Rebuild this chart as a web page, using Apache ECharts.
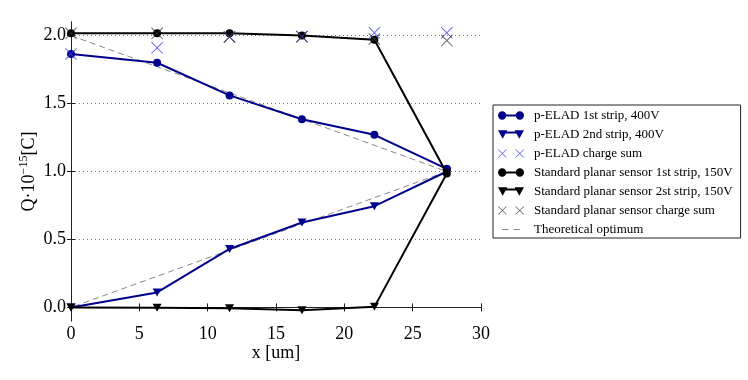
<!DOCTYPE html>
<html>
<head>
<meta charset="utf-8">
<script src="https://cdn.jsdelivr.net/npm/echarts@6/dist/echarts.min.js"></script>
<style>html,body{margin:0;padding:0;background:#fff}#c{width:748px;height:380px}</style>
</head>
<body>
<div id="c"></div>
<script>
// ---- data ----
var xPos      = [0, 6.3, 11.6, 16.9, 22.2, 27.5];
var elad1     = [1.865, 1.80, 1.56, 1.385, 1.27, 1.02];
var elad2     = [0.0, 0.11, 0.43, 0.625, 0.745, 1.0];
var eladSum   = [1.865, 1.91, 1.99, 1.995, 2.02, 2.02];
var std1      = [2.017, 2.017, 2.017, 2.0, 1.97, 0.985];
var std2      = [0.0, -0.003, -0.006, -0.02, 0.004, 0.985];
var stdSum    = [2.017, 2.017, 1.99, 1.99, 1.975, 1.963];
var theoryX   = [0, 27.5, 0];
var theoryY   = [2.0, 1.0, 0.0];
var yTicks    = [0, 0.5, 1.0, 1.5, 2.0];
var names = ['p-ELAD 1st strip, 400V','p-ELAD 2nd strip, 400V','p-ELAD charge sum',
  'Standard planar sensor 1st strip, 150V','Standard planar sensor 2st strip, 150V',
  'Standard planar sensor charge sum','Theoretical optimum'];

function pairs(xs, ys){ return xs.map(function(x,i){ return [x, ys[i]]; }); }

function xShape(cx, cy, s, d){
  var a = d/Math.SQRT2;
  return 'M'+(cx-s+a)+','+(cy-s-a)+' L'+(cx+s+a)+','+(cy+s-a)+' L'+(cx+s-a)+','+(cy+s+a)+' L'+(cx-s-a)+','+(cy-s+a)+' Z '+
         'M'+(cx+s+a)+','+(cy-s+a)+' L'+(cx-s+a)+','+(cy+s+a)+' L'+(cx-s-a)+','+(cy+s-a)+' L'+(cx+s-a)+','+(cy-s-a)+' Z';
}
var xSym = 'path://' + xShape(10,10,10,0.8);
var triSym = 'path://M0,0 L10,0 L5,9 Z';

var iconCirc = 'path://M0,4 A4,4 0 1,1 8,4 A4,4 0 1,1 0,4 Z M7,3 L18,3 L18,5 L7,5 Z M17,4 A4,4 0 1,1 25,4 A4,4 0 1,1 17,4 Z';
var iconTri = 'path://M0,0 L9,0 L4.5,8 Z M4,1 L21,1 L21,3 L4,3 Z M16,0 L25,0 L20.5,8 Z';
var iconX = 'path://' + xShape(4,4,4,0.35) + ' ' + xShape(21,4,4,0.35);
var iconDash = 'path://M4,3.5 L10,3.5 L10,4.5 L4,4.5 Z M15,3.5 L21,3.5 L21,4.5 L15,4.5 Z M0,0 L0.01,0 L0.01,0.01 Z M25,8 L24.99,8 L24.99,7.99 Z';

var serif = 'Liberation Serif';
var blue = '#00008B';
var chart = echarts.init(document.getElementById('c'));
chart.setOption({
  animation: false,
  backgroundColor: '#fff',
  grid: {left: 71, right: 267, top: 22, bottom: 59},
  legend: {
    orient: 'vertical', left: 493, top: 105,
    itemWidth: 26, itemHeight: 10, itemGap: 6,
    padding: [4, 8, 2, 5],
    borderColor: '#222', borderWidth: 1, backgroundColor: '#fff', borderRadius: 0,
    textStyle: {fontFamily: serif, fontSize: 13, color: '#000', padding: [0,0,0,5]},
    data: [
      {name: names[0], icon: iconCirc},
      {name: names[1], icon: iconTri},
      {name: names[2], icon: iconX},
      {name: names[3], icon: iconCirc},
      {name: names[4], icon: iconTri},
      {name: names[5], icon: iconX},
      {name: names[6], icon: iconDash}
    ]
  },
  xAxis: [{
    type: 'value', min: 0, max: 30, interval: 5,
    name: 'x [um]', nameLocation: 'middle', nameGap: 23, nameMoveOverlap: false,
    nameTextStyle: {fontFamily: serif, fontSize: 18, color: '#000'},
    axisLine: {lineStyle: {color: '#222', width: 1}},
    axisTick: {inside: true, length: 4, lineStyle: {color: '#222'}},
    axisLabel: {fontFamily: serif, fontSize: 18, color: '#000', margin: 4},
    splitLine: {show: false}
  }, {
    type: 'value', min: 0, max: 30, interval: 5, position: 'top',
    axisLine: {show: true, lineStyle: {color: '#222', width: 1}},
    axisTick: {show: true, inside: true, length: 4, lineStyle: {color: '#222'}},
    axisLabel: {show: false}, splitLine: {show: false}
  }],
  yAxis: [{
    type: 'value', min: -0.1, max: 2.1,
    name: '{n|Q·10}{s|−15}{n|[C]}', nameLocation: 'middle', nameGap: 30, nameRotate: 90,
    nameMoveOverlap: false,
    nameTextStyle: {fontFamily: serif, color: '#000', rich: {
      n: {fontFamily: serif, fontSize: 18, color: '#000'},
      s: {fontFamily: serif, fontSize: 12, color: '#000', padding: [0, 0, 11, 0]}
    }},
    axisLine: {show: true, lineStyle: {color: '#222', width: 1}},
    axisTick: {show: true, inside: true, length: 4, customValues: yTicks, lineStyle: {color: '#222'}},
    axisLabel: {fontFamily: serif, fontSize: 18, color: '#000', margin: 5, customValues: yTicks,
      formatter: function(v){ return v.toFixed(1); }},
    splitLine: {show: true, lineStyle: {color: '#777', type: [1, 3], width: 1}}
  }, {
    type: 'value', min: -0.1, max: 2.1, position: 'right',
    axisLine: {show: true, lineStyle: {color: '#222', width: 1}},
    axisTick: {show: true, inside: true, length: 4, customValues: yTicks, lineStyle: {color: '#222'}},
    axisLabel: {show: false}, splitLine: {show: false}
  }],
  series: [
    {name: names[6], type: 'line', data: pairs(theoryX, theoryY), symbol: 'none', z: 1,
      itemStyle: {color: '#888'}, lineStyle: {color: '#888', width: 1, type: [6, 4]}},
    {name: names[0], type: 'line', data: pairs(xPos, elad1), symbol: 'circle', symbolSize: 8, z: 3,
      itemStyle: {color: blue}, lineStyle: {color: blue, width: 2}},
    {name: names[1], type: 'line', data: pairs(xPos, elad2), symbol: triSym, symbolSize: [9, 8], z: 3,
      itemStyle: {color: blue}, lineStyle: {color: blue, width: 2}},
    {name: names[3], type: 'line', data: pairs(xPos, std1), symbol: 'circle', symbolSize: 8, z: 4,
      itemStyle: {color: '#000'}, lineStyle: {color: '#000', width: 2}},
    {name: names[4], type: 'line', data: pairs(xPos, std2), symbol: triSym, symbolSize: [9, 8], z: 4,
      itemStyle: {color: '#000'}, lineStyle: {color: '#000', width: 2}},
    {name: names[2], type: 'scatter', data: pairs(xPos, eladSum), symbol: xSym, symbolSize: 12, z: 5,
      itemStyle: {color: '#3a3ae6'}},
    {name: names[5], type: 'scatter', data: pairs(xPos, stdSum), symbol: xSym, symbolSize: 12, z: 5,
      itemStyle: {color: '#333'}}
  ]
});
</script>
</body>
</html>
